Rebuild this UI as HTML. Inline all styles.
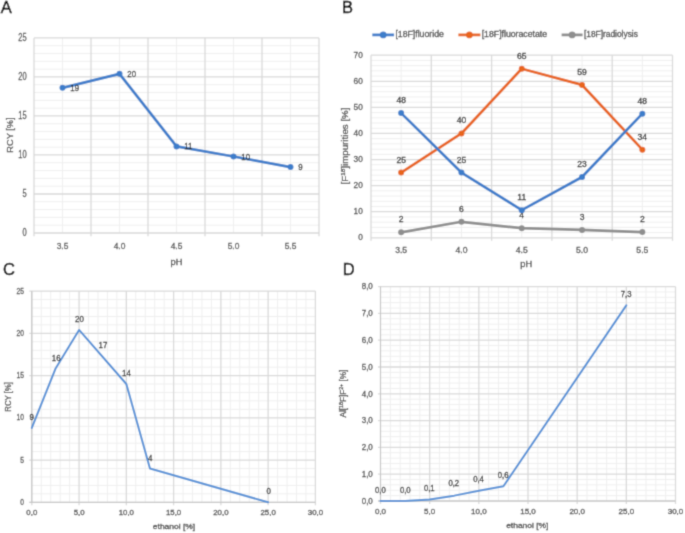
<!DOCTYPE html>
<html><head><meta charset="utf-8"><style>
html,body{margin:0;padding:0;background:#fff;}
body{width:685px;height:533px;overflow:hidden;}
svg{display:block;font-family:"Liberation Sans", sans-serif;}
</style></head><body>
<svg width="685" height="533" viewBox="0 0 685 533">
<defs><filter id="bl" x="0" y="0" width="685" height="533" filterUnits="userSpaceOnUse" primitiveUnits="userSpaceOnUse"><feConvolveMatrix order="3" kernelMatrix="0.0277 0.1110 0.0277 0.1110 0.4452 0.1110 0.0277 0.1110 0.0277" edgeMode="duplicate"/></filter></defs>
<g filter="url(#bl)">
<rect width="685" height="533" fill="#fff"/>
<text transform="translate(6.3,12.74)" font-size="16.5" fill="#000" stroke="#000" stroke-width="0.45" text-anchor="middle">A</text>
<text transform="translate(347.6,12.94)" font-size="16.5" fill="#000" stroke="#000" stroke-width="0.45" text-anchor="middle">B</text>
<text transform="translate(9,274.84)" font-size="16.5" fill="#000" stroke="#000" stroke-width="0.45" text-anchor="middle">C</text>
<text transform="translate(348.6,275.14)" font-size="16.5" fill="#000" stroke="#000" stroke-width="0.45" text-anchor="middle">D</text>
<line x1="34" y1="225.2" x2="319" y2="225.2" stroke="#efefef" stroke-width="1"/>
<line x1="34" y1="217.39" x2="319" y2="217.39" stroke="#efefef" stroke-width="1"/>
<line x1="34" y1="209.59" x2="319" y2="209.59" stroke="#efefef" stroke-width="1"/>
<line x1="34" y1="201.78" x2="319" y2="201.78" stroke="#efefef" stroke-width="1"/>
<line x1="34" y1="186.18" x2="319" y2="186.18" stroke="#efefef" stroke-width="1"/>
<line x1="34" y1="178.37" x2="319" y2="178.37" stroke="#efefef" stroke-width="1"/>
<line x1="34" y1="170.57" x2="319" y2="170.57" stroke="#efefef" stroke-width="1"/>
<line x1="34" y1="162.76" x2="319" y2="162.76" stroke="#efefef" stroke-width="1"/>
<line x1="34" y1="147.16" x2="319" y2="147.16" stroke="#efefef" stroke-width="1"/>
<line x1="34" y1="139.35" x2="319" y2="139.35" stroke="#efefef" stroke-width="1"/>
<line x1="34" y1="131.55" x2="319" y2="131.55" stroke="#efefef" stroke-width="1"/>
<line x1="34" y1="123.74" x2="319" y2="123.74" stroke="#efefef" stroke-width="1"/>
<line x1="34" y1="108.14" x2="319" y2="108.14" stroke="#efefef" stroke-width="1"/>
<line x1="34" y1="100.33" x2="319" y2="100.33" stroke="#efefef" stroke-width="1"/>
<line x1="34" y1="92.53" x2="319" y2="92.53" stroke="#efefef" stroke-width="1"/>
<line x1="34" y1="84.72" x2="319" y2="84.72" stroke="#efefef" stroke-width="1"/>
<line x1="34" y1="69.12" x2="319" y2="69.12" stroke="#efefef" stroke-width="1"/>
<line x1="34" y1="61.31" x2="319" y2="61.31" stroke="#efefef" stroke-width="1"/>
<line x1="34" y1="53.51" x2="319" y2="53.51" stroke="#efefef" stroke-width="1"/>
<line x1="34" y1="45.7" x2="319" y2="45.7" stroke="#efefef" stroke-width="1"/>
<line x1="62.5" y1="37.9" x2="62.5" y2="233" stroke="#efefef" stroke-width="1"/>
<line x1="119.5" y1="37.9" x2="119.5" y2="233" stroke="#efefef" stroke-width="1"/>
<line x1="176.5" y1="37.9" x2="176.5" y2="233" stroke="#efefef" stroke-width="1"/>
<line x1="233.5" y1="37.9" x2="233.5" y2="233" stroke="#efefef" stroke-width="1"/>
<line x1="290.5" y1="37.9" x2="290.5" y2="233" stroke="#efefef" stroke-width="1"/>
<line x1="34" y1="233" x2="319" y2="233" stroke="#d9d9d9" stroke-width="1.3"/>
<line x1="34" y1="193.98" x2="319" y2="193.98" stroke="#d9d9d9" stroke-width="1.3"/>
<line x1="34" y1="154.96" x2="319" y2="154.96" stroke="#d9d9d9" stroke-width="1.3"/>
<line x1="34" y1="115.94" x2="319" y2="115.94" stroke="#d9d9d9" stroke-width="1.3"/>
<line x1="34" y1="76.92" x2="319" y2="76.92" stroke="#d9d9d9" stroke-width="1.3"/>
<line x1="34" y1="37.9" x2="319" y2="37.9" stroke="#d9d9d9" stroke-width="1.3"/>
<line x1="34" y1="37.9" x2="34" y2="236.2" stroke="#d9d9d9" stroke-width="1.3"/>
<line x1="91" y1="37.9" x2="91" y2="236.2" stroke="#d9d9d9" stroke-width="1.3"/>
<line x1="148" y1="37.9" x2="148" y2="236.2" stroke="#d9d9d9" stroke-width="1.3"/>
<line x1="205" y1="37.9" x2="205" y2="236.2" stroke="#d9d9d9" stroke-width="1.3"/>
<line x1="262" y1="37.9" x2="262" y2="236.2" stroke="#d9d9d9" stroke-width="1.3"/>
<line x1="319" y1="37.9" x2="319" y2="236.2" stroke="#d9d9d9" stroke-width="1.3"/>
<text transform="translate(26.6,235.94) scale(0.72,1)" font-size="10.4" fill="#4a4a4a" stroke="#4a4a4a" stroke-width="0.3" text-anchor="end">0</text>
<text transform="translate(26.6,196.92) scale(0.72,1)" font-size="10.4" fill="#4a4a4a" stroke="#4a4a4a" stroke-width="0.3" text-anchor="end">5</text>
<text transform="translate(26.6,157.9) scale(0.72,1)" font-size="10.4" fill="#4a4a4a" stroke="#4a4a4a" stroke-width="0.3" text-anchor="end">10</text>
<text transform="translate(26.6,118.88) scale(0.72,1)" font-size="10.4" fill="#4a4a4a" stroke="#4a4a4a" stroke-width="0.3" text-anchor="end">15</text>
<text transform="translate(26.6,79.86) scale(0.72,1)" font-size="10.4" fill="#4a4a4a" stroke="#4a4a4a" stroke-width="0.3" text-anchor="end">20</text>
<text transform="translate(26.6,40.84) scale(0.72,1)" font-size="10.4" fill="#4a4a4a" stroke="#4a4a4a" stroke-width="0.3" text-anchor="end">25</text>
<text transform="translate(62.5,248.63) scale(0.86,1)" font-size="9.8" fill="#4a4a4a" stroke="#4a4a4a" stroke-width="0.3" text-anchor="middle">3.5</text>
<text transform="translate(119.5,248.63) scale(0.86,1)" font-size="9.8" fill="#4a4a4a" stroke="#4a4a4a" stroke-width="0.3" text-anchor="middle">4.0</text>
<text transform="translate(176.5,248.63) scale(0.86,1)" font-size="9.8" fill="#4a4a4a" stroke="#4a4a4a" stroke-width="0.3" text-anchor="middle">4.5</text>
<text transform="translate(233.5,248.63) scale(0.86,1)" font-size="9.8" fill="#4a4a4a" stroke="#4a4a4a" stroke-width="0.3" text-anchor="middle">5.0</text>
<text transform="translate(290.5,248.63) scale(0.86,1)" font-size="9.8" fill="#4a4a4a" stroke="#4a4a4a" stroke-width="0.3" text-anchor="middle">5.5</text>
<text transform="translate(176.5,265.4) scale(1.08,1)" font-size="8.6" fill="#4a4a4a" stroke="#4a4a4a" stroke-width="0.3" text-anchor="middle">pH</text>
<text transform="translate(9.6,135.1) rotate(-90) translate(0,3.42) scale(0.97,1)" font-size="9.5" fill="#4a4a4a" stroke="#4a4a4a" stroke-width="0.3" text-anchor="middle">RCY [%]</text>
<polyline points="62.5,87.85 119.5,73.8 176.5,146.38 233.5,156.52 290.5,167.06" fill="none" stroke="#3d7dca" stroke-width="2.75" stroke-linejoin="round" stroke-linecap="round"/>
<circle cx="62.5" cy="87.85" r="3.0" fill="#3d7dca"/>
<circle cx="119.5" cy="73.8" r="3.0" fill="#3d7dca"/>
<circle cx="176.5" cy="146.38" r="3.0" fill="#3d7dca"/>
<circle cx="233.5" cy="156.52" r="3.0" fill="#3d7dca"/>
<circle cx="290.5" cy="167.06" r="3.0" fill="#3d7dca"/>
<text transform="translate(70.3,90.87) scale(0.8,1)" font-size="9.8" fill="#2e2e2e" stroke="#2e2e2e" stroke-width="0.3" text-anchor="start">19</text>
<text transform="translate(127.3,76.83) scale(0.8,1)" font-size="9.8" fill="#2e2e2e" stroke="#2e2e2e" stroke-width="0.3" text-anchor="start">20</text>
<text transform="translate(184.3,149.4) scale(0.8,1)" font-size="9.8" fill="#2e2e2e" stroke="#2e2e2e" stroke-width="0.3" text-anchor="start">11</text>
<text transform="translate(241.3,159.55) scale(0.8,1)" font-size="9.8" fill="#2e2e2e" stroke="#2e2e2e" stroke-width="0.3" text-anchor="start">10</text>
<text transform="translate(298.3,170.08) scale(0.8,1)" font-size="9.8" fill="#2e2e2e" stroke="#2e2e2e" stroke-width="0.3" text-anchor="start">9</text>
<line x1="371" y1="232.58" x2="672.5" y2="232.58" stroke="#efefef" stroke-width="1"/>
<line x1="371" y1="227.37" x2="672.5" y2="227.37" stroke="#efefef" stroke-width="1"/>
<line x1="371" y1="222.15" x2="672.5" y2="222.15" stroke="#efefef" stroke-width="1"/>
<line x1="371" y1="216.93" x2="672.5" y2="216.93" stroke="#efefef" stroke-width="1"/>
<line x1="371" y1="206.5" x2="672.5" y2="206.5" stroke="#efefef" stroke-width="1"/>
<line x1="371" y1="201.28" x2="672.5" y2="201.28" stroke="#efefef" stroke-width="1"/>
<line x1="371" y1="196.06" x2="672.5" y2="196.06" stroke="#efefef" stroke-width="1"/>
<line x1="371" y1="190.85" x2="672.5" y2="190.85" stroke="#efefef" stroke-width="1"/>
<line x1="371" y1="180.41" x2="672.5" y2="180.41" stroke="#efefef" stroke-width="1"/>
<line x1="371" y1="175.19" x2="672.5" y2="175.19" stroke="#efefef" stroke-width="1"/>
<line x1="371" y1="169.98" x2="672.5" y2="169.98" stroke="#efefef" stroke-width="1"/>
<line x1="371" y1="164.76" x2="672.5" y2="164.76" stroke="#efefef" stroke-width="1"/>
<line x1="371" y1="154.33" x2="672.5" y2="154.33" stroke="#efefef" stroke-width="1"/>
<line x1="371" y1="149.11" x2="672.5" y2="149.11" stroke="#efefef" stroke-width="1"/>
<line x1="371" y1="143.89" x2="672.5" y2="143.89" stroke="#efefef" stroke-width="1"/>
<line x1="371" y1="138.67" x2="672.5" y2="138.67" stroke="#efefef" stroke-width="1"/>
<line x1="371" y1="128.24" x2="672.5" y2="128.24" stroke="#efefef" stroke-width="1"/>
<line x1="371" y1="123.02" x2="672.5" y2="123.02" stroke="#efefef" stroke-width="1"/>
<line x1="371" y1="117.81" x2="672.5" y2="117.81" stroke="#efefef" stroke-width="1"/>
<line x1="371" y1="112.59" x2="672.5" y2="112.59" stroke="#efefef" stroke-width="1"/>
<line x1="371" y1="102.15" x2="672.5" y2="102.15" stroke="#efefef" stroke-width="1"/>
<line x1="371" y1="96.94" x2="672.5" y2="96.94" stroke="#efefef" stroke-width="1"/>
<line x1="371" y1="91.72" x2="672.5" y2="91.72" stroke="#efefef" stroke-width="1"/>
<line x1="371" y1="86.5" x2="672.5" y2="86.5" stroke="#efefef" stroke-width="1"/>
<line x1="371" y1="76.07" x2="672.5" y2="76.07" stroke="#efefef" stroke-width="1"/>
<line x1="371" y1="70.85" x2="672.5" y2="70.85" stroke="#efefef" stroke-width="1"/>
<line x1="371" y1="65.63" x2="672.5" y2="65.63" stroke="#efefef" stroke-width="1"/>
<line x1="371" y1="60.42" x2="672.5" y2="60.42" stroke="#efefef" stroke-width="1"/>
<line x1="401.15" y1="55.2" x2="401.15" y2="237.8" stroke="#efefef" stroke-width="1"/>
<line x1="461.45" y1="55.2" x2="461.45" y2="237.8" stroke="#efefef" stroke-width="1"/>
<line x1="521.75" y1="55.2" x2="521.75" y2="237.8" stroke="#efefef" stroke-width="1"/>
<line x1="582.05" y1="55.2" x2="582.05" y2="237.8" stroke="#efefef" stroke-width="1"/>
<line x1="642.35" y1="55.2" x2="642.35" y2="237.8" stroke="#efefef" stroke-width="1"/>
<line x1="371" y1="237.8" x2="672.5" y2="237.8" stroke="#d9d9d9" stroke-width="1.3"/>
<line x1="371" y1="211.71" x2="672.5" y2="211.71" stroke="#d9d9d9" stroke-width="1.3"/>
<line x1="371" y1="185.63" x2="672.5" y2="185.63" stroke="#d9d9d9" stroke-width="1.3"/>
<line x1="371" y1="159.54" x2="672.5" y2="159.54" stroke="#d9d9d9" stroke-width="1.3"/>
<line x1="371" y1="133.46" x2="672.5" y2="133.46" stroke="#d9d9d9" stroke-width="1.3"/>
<line x1="371" y1="107.37" x2="672.5" y2="107.37" stroke="#d9d9d9" stroke-width="1.3"/>
<line x1="371" y1="81.29" x2="672.5" y2="81.29" stroke="#d9d9d9" stroke-width="1.3"/>
<line x1="371" y1="55.2" x2="672.5" y2="55.2" stroke="#d9d9d9" stroke-width="1.3"/>
<line x1="371" y1="55.2" x2="371" y2="240.8" stroke="#d9d9d9" stroke-width="1.3"/>
<line x1="431.3" y1="55.2" x2="431.3" y2="240.8" stroke="#d9d9d9" stroke-width="1.3"/>
<line x1="491.6" y1="55.2" x2="491.6" y2="240.8" stroke="#d9d9d9" stroke-width="1.3"/>
<line x1="551.9" y1="55.2" x2="551.9" y2="240.8" stroke="#d9d9d9" stroke-width="1.3"/>
<line x1="612.2" y1="55.2" x2="612.2" y2="240.8" stroke="#d9d9d9" stroke-width="1.3"/>
<line x1="672.5" y1="55.2" x2="672.5" y2="240.8" stroke="#d9d9d9" stroke-width="1.3"/>
<text transform="translate(362.8,240.36) scale(0.86,1)" font-size="9.6" fill="#4a4a4a" stroke="#4a4a4a" stroke-width="0.3" text-anchor="end">0</text>
<text transform="translate(362.8,214.27) scale(0.86,1)" font-size="9.6" fill="#4a4a4a" stroke="#4a4a4a" stroke-width="0.3" text-anchor="end">10</text>
<text transform="translate(362.8,188.18) scale(0.86,1)" font-size="9.6" fill="#4a4a4a" stroke="#4a4a4a" stroke-width="0.3" text-anchor="end">20</text>
<text transform="translate(362.8,162.1) scale(0.86,1)" font-size="9.6" fill="#4a4a4a" stroke="#4a4a4a" stroke-width="0.3" text-anchor="end">30</text>
<text transform="translate(362.8,136.01) scale(0.86,1)" font-size="9.6" fill="#4a4a4a" stroke="#4a4a4a" stroke-width="0.3" text-anchor="end">40</text>
<text transform="translate(362.8,109.93) scale(0.86,1)" font-size="9.6" fill="#4a4a4a" stroke="#4a4a4a" stroke-width="0.3" text-anchor="end">50</text>
<text transform="translate(362.8,83.84) scale(0.86,1)" font-size="9.6" fill="#4a4a4a" stroke="#4a4a4a" stroke-width="0.3" text-anchor="end">60</text>
<text transform="translate(362.8,57.76) scale(0.86,1)" font-size="9.6" fill="#4a4a4a" stroke="#4a4a4a" stroke-width="0.3" text-anchor="end">70</text>
<text transform="translate(401.15,253.06) scale(0.9,1)" font-size="9.6" fill="#4a4a4a" stroke="#4a4a4a" stroke-width="0.3" text-anchor="middle">3.5</text>
<text transform="translate(461.45,253.06) scale(0.9,1)" font-size="9.6" fill="#4a4a4a" stroke="#4a4a4a" stroke-width="0.3" text-anchor="middle">4.0</text>
<text transform="translate(521.75,253.06) scale(0.9,1)" font-size="9.6" fill="#4a4a4a" stroke="#4a4a4a" stroke-width="0.3" text-anchor="middle">4.5</text>
<text transform="translate(582.05,253.06) scale(0.9,1)" font-size="9.6" fill="#4a4a4a" stroke="#4a4a4a" stroke-width="0.3" text-anchor="middle">5.0</text>
<text transform="translate(642.35,253.06) scale(0.9,1)" font-size="9.6" fill="#4a4a4a" stroke="#4a4a4a" stroke-width="0.3" text-anchor="middle">5.5</text>
<text transform="translate(526.3,266.9) scale(1.08,1)" font-size="8.6" fill="#4a4a4a" stroke="#4a4a4a" stroke-width="0.3" text-anchor="middle">pH</text>
<text transform="translate(344.6,146) rotate(-90) translate(0,3.31) scale(1.06,1)" font-size="9.2" fill="#4a4a4a" stroke="#4a4a4a" stroke-width="0.3" text-anchor="middle">[F<tspan font-size="6" dy="-3">18</tspan><tspan dy="3">]impurities [%]</tspan></text>
<polyline points="401.15,232.32 461.45,221.76 521.75,228.15 582.05,229.97 642.35,232.06" fill="none" stroke="#8e8e8e" stroke-width="2.75" stroke-linejoin="round" stroke-linecap="round"/>
<circle cx="401.15" cy="232.32" r="3.0" fill="#8e8e8e"/>
<circle cx="461.45" cy="221.76" r="3.0" fill="#8e8e8e"/>
<circle cx="521.75" cy="228.15" r="3.0" fill="#8e8e8e"/>
<circle cx="582.05" cy="229.97" r="3.0" fill="#8e8e8e"/>
<circle cx="642.35" cy="232.06" r="3.0" fill="#8e8e8e"/>
<text transform="translate(401.15,222.23) scale(0.93,1)" font-size="9.2" fill="#2e2e2e" stroke="#2e2e2e" stroke-width="0.3" text-anchor="middle">2</text>
<text transform="translate(461.45,211.67) scale(0.93,1)" font-size="9.2" fill="#2e2e2e" stroke="#2e2e2e" stroke-width="0.3" text-anchor="middle">6</text>
<text transform="translate(521.75,218.06) scale(0.93,1)" font-size="9.2" fill="#2e2e2e" stroke="#2e2e2e" stroke-width="0.3" text-anchor="middle">4</text>
<text transform="translate(582.05,219.89) scale(0.93,1)" font-size="9.2" fill="#2e2e2e" stroke="#2e2e2e" stroke-width="0.3" text-anchor="middle">3</text>
<text transform="translate(642.35,221.97) scale(0.93,1)" font-size="9.2" fill="#2e2e2e" stroke="#2e2e2e" stroke-width="0.3" text-anchor="middle">2</text>
<polyline points="401.15,172.59 461.45,133.46 521.75,68.76 582.05,84.94 642.35,149.63" fill="none" stroke="#e8651f" stroke-width="2.75" stroke-linejoin="round" stroke-linecap="round"/>
<circle cx="401.15" cy="172.59" r="3.0" fill="#e8651f"/>
<circle cx="461.45" cy="133.46" r="3.0" fill="#e8651f"/>
<circle cx="521.75" cy="68.76" r="3.0" fill="#e8651f"/>
<circle cx="582.05" cy="84.94" r="3.0" fill="#e8651f"/>
<circle cx="642.35" cy="149.63" r="3.0" fill="#e8651f"/>
<text transform="translate(401.15,162.5) scale(0.93,1)" font-size="9.2" fill="#2e2e2e" stroke="#2e2e2e" stroke-width="0.3" text-anchor="middle">25</text>
<text transform="translate(461.45,123.37) scale(0.93,1)" font-size="9.2" fill="#2e2e2e" stroke="#2e2e2e" stroke-width="0.3" text-anchor="middle">40</text>
<text transform="translate(521.75,58.68) scale(0.93,1)" font-size="9.2" fill="#2e2e2e" stroke="#2e2e2e" stroke-width="0.3" text-anchor="middle">65</text>
<text transform="translate(582.05,74.85) scale(0.93,1)" font-size="9.2" fill="#2e2e2e" stroke="#2e2e2e" stroke-width="0.3" text-anchor="middle">59</text>
<text transform="translate(642.35,139.54) scale(0.93,1)" font-size="9.2" fill="#2e2e2e" stroke="#2e2e2e" stroke-width="0.3" text-anchor="middle">34</text>
<polyline points="401.15,113.11 461.45,172.59 521.75,210.15 582.05,177.02 642.35,113.63" fill="none" stroke="#3d7dca" stroke-width="2.75" stroke-linejoin="round" stroke-linecap="round"/>
<circle cx="401.15" cy="113.11" r="3.0" fill="#3d7dca"/>
<circle cx="461.45" cy="172.59" r="3.0" fill="#3d7dca"/>
<circle cx="521.75" cy="210.15" r="3.0" fill="#3d7dca"/>
<circle cx="582.05" cy="177.02" r="3.0" fill="#3d7dca"/>
<circle cx="642.35" cy="113.63" r="3.0" fill="#3d7dca"/>
<text transform="translate(401.15,103.02) scale(0.93,1)" font-size="9.2" fill="#2e2e2e" stroke="#2e2e2e" stroke-width="0.3" text-anchor="middle">48</text>
<text transform="translate(461.45,162.5) scale(0.93,1)" font-size="9.2" fill="#2e2e2e" stroke="#2e2e2e" stroke-width="0.3" text-anchor="middle">25</text>
<text transform="translate(521.75,200.06) scale(0.93,1)" font-size="9.2" fill="#2e2e2e" stroke="#2e2e2e" stroke-width="0.3" text-anchor="middle">11</text>
<text transform="translate(582.05,166.93) scale(0.93,1)" font-size="9.2" fill="#2e2e2e" stroke="#2e2e2e" stroke-width="0.3" text-anchor="middle">23</text>
<text transform="translate(642.35,103.54) scale(0.93,1)" font-size="9.2" fill="#2e2e2e" stroke="#2e2e2e" stroke-width="0.3" text-anchor="middle">48</text>
<line x1="372.3" y1="34.9" x2="394.1" y2="34.9" stroke="#3d7dca" stroke-width="2.75"/>
<circle cx="383.2" cy="34.9" r="3.4" fill="#3d7dca"/>
<text transform="translate(395.4,37.42) scale(1.04,1)" font-size="8.4" fill="#4a4a4a" stroke="#4a4a4a" stroke-width="0.3" text-anchor="start">[18F]fluoride</text>
<line x1="458.4" y1="34.9" x2="480.4" y2="34.9" stroke="#e8651f" stroke-width="2.75"/>
<circle cx="469.4" cy="34.9" r="3.4" fill="#e8651f"/>
<text transform="translate(481.7,37.42) scale(1.04,1)" font-size="8.4" fill="#4a4a4a" stroke="#4a4a4a" stroke-width="0.3" text-anchor="start">[18F]fluoracetate</text>
<line x1="561.6" y1="34.9" x2="582.6" y2="34.9" stroke="#8e8e8e" stroke-width="2.75"/>
<circle cx="572.1" cy="34.9" r="3.4" fill="#8e8e8e"/>
<text transform="translate(583.9,37.42)" font-size="8.4" fill="#4a4a4a" stroke="#4a4a4a" stroke-width="0.3" text-anchor="start">[18F]radiolysis</text>
<line x1="41.25" y1="291.1" x2="41.25" y2="502.3" stroke="#efefef" stroke-width="1"/>
<line x1="50.71" y1="291.1" x2="50.71" y2="502.3" stroke="#efefef" stroke-width="1"/>
<line x1="60.16" y1="291.1" x2="60.16" y2="502.3" stroke="#efefef" stroke-width="1"/>
<line x1="69.61" y1="291.1" x2="69.61" y2="502.3" stroke="#efefef" stroke-width="1"/>
<line x1="88.52" y1="291.1" x2="88.52" y2="502.3" stroke="#efefef" stroke-width="1"/>
<line x1="97.97" y1="291.1" x2="97.97" y2="502.3" stroke="#efefef" stroke-width="1"/>
<line x1="107.43" y1="291.1" x2="107.43" y2="502.3" stroke="#efefef" stroke-width="1"/>
<line x1="116.88" y1="291.1" x2="116.88" y2="502.3" stroke="#efefef" stroke-width="1"/>
<line x1="135.79" y1="291.1" x2="135.79" y2="502.3" stroke="#efefef" stroke-width="1"/>
<line x1="145.24" y1="291.1" x2="145.24" y2="502.3" stroke="#efefef" stroke-width="1"/>
<line x1="154.69" y1="291.1" x2="154.69" y2="502.3" stroke="#efefef" stroke-width="1"/>
<line x1="164.15" y1="291.1" x2="164.15" y2="502.3" stroke="#efefef" stroke-width="1"/>
<line x1="183.05" y1="291.1" x2="183.05" y2="502.3" stroke="#efefef" stroke-width="1"/>
<line x1="192.51" y1="291.1" x2="192.51" y2="502.3" stroke="#efefef" stroke-width="1"/>
<line x1="201.96" y1="291.1" x2="201.96" y2="502.3" stroke="#efefef" stroke-width="1"/>
<line x1="211.41" y1="291.1" x2="211.41" y2="502.3" stroke="#efefef" stroke-width="1"/>
<line x1="230.32" y1="291.1" x2="230.32" y2="502.3" stroke="#efefef" stroke-width="1"/>
<line x1="239.77" y1="291.1" x2="239.77" y2="502.3" stroke="#efefef" stroke-width="1"/>
<line x1="249.23" y1="291.1" x2="249.23" y2="502.3" stroke="#efefef" stroke-width="1"/>
<line x1="258.68" y1="291.1" x2="258.68" y2="502.3" stroke="#efefef" stroke-width="1"/>
<line x1="277.59" y1="291.1" x2="277.59" y2="502.3" stroke="#efefef" stroke-width="1"/>
<line x1="287.04" y1="291.1" x2="287.04" y2="502.3" stroke="#efefef" stroke-width="1"/>
<line x1="296.49" y1="291.1" x2="296.49" y2="502.3" stroke="#efefef" stroke-width="1"/>
<line x1="305.95" y1="291.1" x2="305.95" y2="502.3" stroke="#efefef" stroke-width="1"/>
<line x1="31.8" y1="493.85" x2="315.4" y2="493.85" stroke="#efefef" stroke-width="1"/>
<line x1="31.8" y1="485.4" x2="315.4" y2="485.4" stroke="#efefef" stroke-width="1"/>
<line x1="31.8" y1="476.96" x2="315.4" y2="476.96" stroke="#efefef" stroke-width="1"/>
<line x1="31.8" y1="468.51" x2="315.4" y2="468.51" stroke="#efefef" stroke-width="1"/>
<line x1="31.8" y1="451.61" x2="315.4" y2="451.61" stroke="#efefef" stroke-width="1"/>
<line x1="31.8" y1="443.16" x2="315.4" y2="443.16" stroke="#efefef" stroke-width="1"/>
<line x1="31.8" y1="434.72" x2="315.4" y2="434.72" stroke="#efefef" stroke-width="1"/>
<line x1="31.8" y1="426.27" x2="315.4" y2="426.27" stroke="#efefef" stroke-width="1"/>
<line x1="31.8" y1="409.37" x2="315.4" y2="409.37" stroke="#efefef" stroke-width="1"/>
<line x1="31.8" y1="400.92" x2="315.4" y2="400.92" stroke="#efefef" stroke-width="1"/>
<line x1="31.8" y1="392.48" x2="315.4" y2="392.48" stroke="#efefef" stroke-width="1"/>
<line x1="31.8" y1="384.03" x2="315.4" y2="384.03" stroke="#efefef" stroke-width="1"/>
<line x1="31.8" y1="367.13" x2="315.4" y2="367.13" stroke="#efefef" stroke-width="1"/>
<line x1="31.8" y1="358.68" x2="315.4" y2="358.68" stroke="#efefef" stroke-width="1"/>
<line x1="31.8" y1="350.24" x2="315.4" y2="350.24" stroke="#efefef" stroke-width="1"/>
<line x1="31.8" y1="341.79" x2="315.4" y2="341.79" stroke="#efefef" stroke-width="1"/>
<line x1="31.8" y1="324.89" x2="315.4" y2="324.89" stroke="#efefef" stroke-width="1"/>
<line x1="31.8" y1="316.44" x2="315.4" y2="316.44" stroke="#efefef" stroke-width="1"/>
<line x1="31.8" y1="308" x2="315.4" y2="308" stroke="#efefef" stroke-width="1"/>
<line x1="31.8" y1="299.55" x2="315.4" y2="299.55" stroke="#efefef" stroke-width="1"/>
<line x1="31.8" y1="291.1" x2="31.8" y2="505.3" stroke="#d9d9d9" stroke-width="1.3"/>
<line x1="79.07" y1="291.1" x2="79.07" y2="505.3" stroke="#d9d9d9" stroke-width="1.3"/>
<line x1="126.33" y1="291.1" x2="126.33" y2="505.3" stroke="#d9d9d9" stroke-width="1.3"/>
<line x1="173.6" y1="291.1" x2="173.6" y2="505.3" stroke="#d9d9d9" stroke-width="1.3"/>
<line x1="220.87" y1="291.1" x2="220.87" y2="505.3" stroke="#d9d9d9" stroke-width="1.3"/>
<line x1="268.13" y1="291.1" x2="268.13" y2="505.3" stroke="#d9d9d9" stroke-width="1.3"/>
<line x1="315.4" y1="291.1" x2="315.4" y2="505.3" stroke="#d9d9d9" stroke-width="1.3"/>
<line x1="29.3" y1="502.3" x2="315.4" y2="502.3" stroke="#d9d9d9" stroke-width="1.3"/>
<line x1="29.3" y1="460.06" x2="315.4" y2="460.06" stroke="#d9d9d9" stroke-width="1.3"/>
<line x1="29.3" y1="417.82" x2="315.4" y2="417.82" stroke="#d9d9d9" stroke-width="1.3"/>
<line x1="29.3" y1="375.58" x2="315.4" y2="375.58" stroke="#d9d9d9" stroke-width="1.3"/>
<line x1="29.3" y1="333.34" x2="315.4" y2="333.34" stroke="#d9d9d9" stroke-width="1.3"/>
<line x1="29.3" y1="291.1" x2="315.4" y2="291.1" stroke="#d9d9d9" stroke-width="1.3"/>
<line x1="31.8" y1="291.1" x2="31.8" y2="502.3" stroke="#c4c4c4" stroke-width="1"/>
<line x1="29.3" y1="502.3" x2="315.4" y2="502.3" stroke="#c4c4c4" stroke-width="1"/>
<text transform="translate(24,504.94) scale(0.74,1)" font-size="9.0" fill="#4a4a4a" stroke="#4a4a4a" stroke-width="0.3" text-anchor="end">0</text>
<text transform="translate(24,462.7) scale(0.74,1)" font-size="9.0" fill="#4a4a4a" stroke="#4a4a4a" stroke-width="0.3" text-anchor="end">5</text>
<text transform="translate(24,420.46) scale(0.74,1)" font-size="9.0" fill="#4a4a4a" stroke="#4a4a4a" stroke-width="0.3" text-anchor="end">10</text>
<text transform="translate(24,378.22) scale(0.74,1)" font-size="9.0" fill="#4a4a4a" stroke="#4a4a4a" stroke-width="0.3" text-anchor="end">15</text>
<text transform="translate(24,335.98) scale(0.74,1)" font-size="9.0" fill="#4a4a4a" stroke="#4a4a4a" stroke-width="0.3" text-anchor="end">20</text>
<text transform="translate(24,293.74) scale(0.74,1)" font-size="9.0" fill="#4a4a4a" stroke="#4a4a4a" stroke-width="0.3" text-anchor="end">25</text>
<text transform="translate(31.8,514.88) scale(0.98,1)" font-size="8.0" fill="#4a4a4a" stroke="#4a4a4a" stroke-width="0.3" text-anchor="middle">0,0</text>
<text transform="translate(79.07,514.88) scale(0.98,1)" font-size="8.0" fill="#4a4a4a" stroke="#4a4a4a" stroke-width="0.3" text-anchor="middle">5,0</text>
<text transform="translate(126.33,514.88) scale(0.98,1)" font-size="8.0" fill="#4a4a4a" stroke="#4a4a4a" stroke-width="0.3" text-anchor="middle">10,0</text>
<text transform="translate(173.6,514.88) scale(0.98,1)" font-size="8.0" fill="#4a4a4a" stroke="#4a4a4a" stroke-width="0.3" text-anchor="middle">15,0</text>
<text transform="translate(220.87,514.88) scale(0.98,1)" font-size="8.0" fill="#4a4a4a" stroke="#4a4a4a" stroke-width="0.3" text-anchor="middle">20,0</text>
<text transform="translate(268.13,514.88) scale(0.98,1)" font-size="8.0" fill="#4a4a4a" stroke="#4a4a4a" stroke-width="0.3" text-anchor="middle">25,0</text>
<text transform="translate(315.4,514.88) scale(0.98,1)" font-size="8.0" fill="#4a4a4a" stroke="#4a4a4a" stroke-width="0.3" text-anchor="middle">30,0</text>
<text transform="translate(174,528.57) scale(1.1,1)" font-size="7.7" fill="#4a4a4a" stroke="#4a4a4a" stroke-width="0.3" text-anchor="middle">ethanol [%]</text>
<text transform="translate(7.9,396.9) rotate(-90) translate(0,2.95) scale(0.95,1)" font-size="8.2" fill="#4a4a4a" stroke="#4a4a4a" stroke-width="0.3" text-anchor="middle">RCY [%]</text>
<polyline points="31.8,427.96 55.43,368.82 79.07,329.96 126.33,384.03 149.97,468.51 268.13,502.3" fill="none" stroke="#5290d6" stroke-width="2.0" stroke-linejoin="round" stroke-linecap="round"/>
<text transform="translate(31.8,419.96) scale(0.8,1)" font-size="9.9" fill="#2e2e2e" stroke="#2e2e2e" stroke-width="0.3" text-anchor="middle">9</text>
<text transform="translate(56.2,361.16) scale(0.8,1)" font-size="9.9" fill="#2e2e2e" stroke="#2e2e2e" stroke-width="0.3" text-anchor="middle">16</text>
<text transform="translate(79.4,322.16) scale(0.8,1)" font-size="9.9" fill="#2e2e2e" stroke="#2e2e2e" stroke-width="0.3" text-anchor="middle">20</text>
<text transform="translate(103,348.26) scale(0.8,1)" font-size="9.9" fill="#2e2e2e" stroke="#2e2e2e" stroke-width="0.3" text-anchor="middle">17</text>
<text transform="translate(126.5,376.06) scale(0.8,1)" font-size="9.9" fill="#2e2e2e" stroke="#2e2e2e" stroke-width="0.3" text-anchor="middle">14</text>
<text transform="translate(150.3,460.56) scale(0.8,1)" font-size="9.9" fill="#2e2e2e" stroke="#2e2e2e" stroke-width="0.3" text-anchor="middle">4</text>
<text transform="translate(268.6,494.36) scale(0.8,1)" font-size="9.9" fill="#2e2e2e" stroke="#2e2e2e" stroke-width="0.3" text-anchor="middle">0</text>
<line x1="390.33" y1="286.6" x2="390.33" y2="501" stroke="#efefef" stroke-width="1"/>
<line x1="400.17" y1="286.6" x2="400.17" y2="501" stroke="#efefef" stroke-width="1"/>
<line x1="410" y1="286.6" x2="410" y2="501" stroke="#efefef" stroke-width="1"/>
<line x1="419.83" y1="286.6" x2="419.83" y2="501" stroke="#efefef" stroke-width="1"/>
<line x1="439.5" y1="286.6" x2="439.5" y2="501" stroke="#efefef" stroke-width="1"/>
<line x1="449.33" y1="286.6" x2="449.33" y2="501" stroke="#efefef" stroke-width="1"/>
<line x1="459.17" y1="286.6" x2="459.17" y2="501" stroke="#efefef" stroke-width="1"/>
<line x1="469" y1="286.6" x2="469" y2="501" stroke="#efefef" stroke-width="1"/>
<line x1="488.67" y1="286.6" x2="488.67" y2="501" stroke="#efefef" stroke-width="1"/>
<line x1="498.5" y1="286.6" x2="498.5" y2="501" stroke="#efefef" stroke-width="1"/>
<line x1="508.33" y1="286.6" x2="508.33" y2="501" stroke="#efefef" stroke-width="1"/>
<line x1="518.17" y1="286.6" x2="518.17" y2="501" stroke="#efefef" stroke-width="1"/>
<line x1="537.83" y1="286.6" x2="537.83" y2="501" stroke="#efefef" stroke-width="1"/>
<line x1="547.67" y1="286.6" x2="547.67" y2="501" stroke="#efefef" stroke-width="1"/>
<line x1="557.5" y1="286.6" x2="557.5" y2="501" stroke="#efefef" stroke-width="1"/>
<line x1="567.33" y1="286.6" x2="567.33" y2="501" stroke="#efefef" stroke-width="1"/>
<line x1="587" y1="286.6" x2="587" y2="501" stroke="#efefef" stroke-width="1"/>
<line x1="596.83" y1="286.6" x2="596.83" y2="501" stroke="#efefef" stroke-width="1"/>
<line x1="606.67" y1="286.6" x2="606.67" y2="501" stroke="#efefef" stroke-width="1"/>
<line x1="616.5" y1="286.6" x2="616.5" y2="501" stroke="#efefef" stroke-width="1"/>
<line x1="636.17" y1="286.6" x2="636.17" y2="501" stroke="#efefef" stroke-width="1"/>
<line x1="646" y1="286.6" x2="646" y2="501" stroke="#efefef" stroke-width="1"/>
<line x1="655.83" y1="286.6" x2="655.83" y2="501" stroke="#efefef" stroke-width="1"/>
<line x1="665.67" y1="286.6" x2="665.67" y2="501" stroke="#efefef" stroke-width="1"/>
<line x1="380.5" y1="495.64" x2="675.5" y2="495.64" stroke="#efefef" stroke-width="1"/>
<line x1="380.5" y1="490.28" x2="675.5" y2="490.28" stroke="#efefef" stroke-width="1"/>
<line x1="380.5" y1="484.92" x2="675.5" y2="484.92" stroke="#efefef" stroke-width="1"/>
<line x1="380.5" y1="479.56" x2="675.5" y2="479.56" stroke="#efefef" stroke-width="1"/>
<line x1="380.5" y1="468.84" x2="675.5" y2="468.84" stroke="#efefef" stroke-width="1"/>
<line x1="380.5" y1="463.48" x2="675.5" y2="463.48" stroke="#efefef" stroke-width="1"/>
<line x1="380.5" y1="458.12" x2="675.5" y2="458.12" stroke="#efefef" stroke-width="1"/>
<line x1="380.5" y1="452.76" x2="675.5" y2="452.76" stroke="#efefef" stroke-width="1"/>
<line x1="380.5" y1="442.04" x2="675.5" y2="442.04" stroke="#efefef" stroke-width="1"/>
<line x1="380.5" y1="436.68" x2="675.5" y2="436.68" stroke="#efefef" stroke-width="1"/>
<line x1="380.5" y1="431.32" x2="675.5" y2="431.32" stroke="#efefef" stroke-width="1"/>
<line x1="380.5" y1="425.96" x2="675.5" y2="425.96" stroke="#efefef" stroke-width="1"/>
<line x1="380.5" y1="415.24" x2="675.5" y2="415.24" stroke="#efefef" stroke-width="1"/>
<line x1="380.5" y1="409.88" x2="675.5" y2="409.88" stroke="#efefef" stroke-width="1"/>
<line x1="380.5" y1="404.52" x2="675.5" y2="404.52" stroke="#efefef" stroke-width="1"/>
<line x1="380.5" y1="399.16" x2="675.5" y2="399.16" stroke="#efefef" stroke-width="1"/>
<line x1="380.5" y1="388.44" x2="675.5" y2="388.44" stroke="#efefef" stroke-width="1"/>
<line x1="380.5" y1="383.08" x2="675.5" y2="383.08" stroke="#efefef" stroke-width="1"/>
<line x1="380.5" y1="377.72" x2="675.5" y2="377.72" stroke="#efefef" stroke-width="1"/>
<line x1="380.5" y1="372.36" x2="675.5" y2="372.36" stroke="#efefef" stroke-width="1"/>
<line x1="380.5" y1="361.64" x2="675.5" y2="361.64" stroke="#efefef" stroke-width="1"/>
<line x1="380.5" y1="356.28" x2="675.5" y2="356.28" stroke="#efefef" stroke-width="1"/>
<line x1="380.5" y1="350.92" x2="675.5" y2="350.92" stroke="#efefef" stroke-width="1"/>
<line x1="380.5" y1="345.56" x2="675.5" y2="345.56" stroke="#efefef" stroke-width="1"/>
<line x1="380.5" y1="334.84" x2="675.5" y2="334.84" stroke="#efefef" stroke-width="1"/>
<line x1="380.5" y1="329.48" x2="675.5" y2="329.48" stroke="#efefef" stroke-width="1"/>
<line x1="380.5" y1="324.12" x2="675.5" y2="324.12" stroke="#efefef" stroke-width="1"/>
<line x1="380.5" y1="318.76" x2="675.5" y2="318.76" stroke="#efefef" stroke-width="1"/>
<line x1="380.5" y1="308.04" x2="675.5" y2="308.04" stroke="#efefef" stroke-width="1"/>
<line x1="380.5" y1="302.68" x2="675.5" y2="302.68" stroke="#efefef" stroke-width="1"/>
<line x1="380.5" y1="297.32" x2="675.5" y2="297.32" stroke="#efefef" stroke-width="1"/>
<line x1="380.5" y1="291.96" x2="675.5" y2="291.96" stroke="#efefef" stroke-width="1"/>
<line x1="380.5" y1="286.6" x2="380.5" y2="504" stroke="#d9d9d9" stroke-width="1.3"/>
<line x1="429.67" y1="286.6" x2="429.67" y2="504" stroke="#d9d9d9" stroke-width="1.3"/>
<line x1="478.83" y1="286.6" x2="478.83" y2="504" stroke="#d9d9d9" stroke-width="1.3"/>
<line x1="528" y1="286.6" x2="528" y2="504" stroke="#d9d9d9" stroke-width="1.3"/>
<line x1="577.17" y1="286.6" x2="577.17" y2="504" stroke="#d9d9d9" stroke-width="1.3"/>
<line x1="626.33" y1="286.6" x2="626.33" y2="504" stroke="#d9d9d9" stroke-width="1.3"/>
<line x1="675.5" y1="286.6" x2="675.5" y2="504" stroke="#d9d9d9" stroke-width="1.3"/>
<line x1="378" y1="501" x2="675.5" y2="501" stroke="#d9d9d9" stroke-width="1.3"/>
<line x1="378" y1="474.2" x2="675.5" y2="474.2" stroke="#d9d9d9" stroke-width="1.3"/>
<line x1="378" y1="447.4" x2="675.5" y2="447.4" stroke="#d9d9d9" stroke-width="1.3"/>
<line x1="378" y1="420.6" x2="675.5" y2="420.6" stroke="#d9d9d9" stroke-width="1.3"/>
<line x1="378" y1="393.8" x2="675.5" y2="393.8" stroke="#d9d9d9" stroke-width="1.3"/>
<line x1="378" y1="367" x2="675.5" y2="367" stroke="#d9d9d9" stroke-width="1.3"/>
<line x1="378" y1="340.2" x2="675.5" y2="340.2" stroke="#d9d9d9" stroke-width="1.3"/>
<line x1="378" y1="313.4" x2="675.5" y2="313.4" stroke="#d9d9d9" stroke-width="1.3"/>
<line x1="378" y1="286.6" x2="675.5" y2="286.6" stroke="#d9d9d9" stroke-width="1.3"/>
<line x1="380.5" y1="286.6" x2="380.5" y2="501" stroke="#c4c4c4" stroke-width="1"/>
<line x1="378" y1="501" x2="675.5" y2="501" stroke="#c4c4c4" stroke-width="1"/>
<text transform="translate(372.8,503.72) scale(0.95,1)" font-size="8.4" fill="#4a4a4a" stroke="#4a4a4a" stroke-width="0.3" text-anchor="end">0,0</text>
<text transform="translate(372.8,476.92) scale(0.95,1)" font-size="8.4" fill="#4a4a4a" stroke="#4a4a4a" stroke-width="0.3" text-anchor="end">1,0</text>
<text transform="translate(372.8,450.12) scale(0.95,1)" font-size="8.4" fill="#4a4a4a" stroke="#4a4a4a" stroke-width="0.3" text-anchor="end">2,0</text>
<text transform="translate(372.8,423.32) scale(0.95,1)" font-size="8.4" fill="#4a4a4a" stroke="#4a4a4a" stroke-width="0.3" text-anchor="end">3,0</text>
<text transform="translate(372.8,396.52) scale(0.95,1)" font-size="8.4" fill="#4a4a4a" stroke="#4a4a4a" stroke-width="0.3" text-anchor="end">4,0</text>
<text transform="translate(372.8,369.72) scale(0.95,1)" font-size="8.4" fill="#4a4a4a" stroke="#4a4a4a" stroke-width="0.3" text-anchor="end">5,0</text>
<text transform="translate(372.8,342.92) scale(0.95,1)" font-size="8.4" fill="#4a4a4a" stroke="#4a4a4a" stroke-width="0.3" text-anchor="end">6,0</text>
<text transform="translate(372.8,316.12) scale(0.95,1)" font-size="8.4" fill="#4a4a4a" stroke="#4a4a4a" stroke-width="0.3" text-anchor="end">7,0</text>
<text transform="translate(372.8,289.32) scale(0.95,1)" font-size="8.4" fill="#4a4a4a" stroke="#4a4a4a" stroke-width="0.3" text-anchor="end">8,0</text>
<text transform="translate(380.5,513.88)" font-size="8.0" fill="#4a4a4a" stroke="#4a4a4a" stroke-width="0.3" text-anchor="middle">0,0</text>
<text transform="translate(429.67,513.88)" font-size="8.0" fill="#4a4a4a" stroke="#4a4a4a" stroke-width="0.3" text-anchor="middle">5,0</text>
<text transform="translate(478.83,513.88)" font-size="8.0" fill="#4a4a4a" stroke="#4a4a4a" stroke-width="0.3" text-anchor="middle">10,0</text>
<text transform="translate(528,513.88)" font-size="8.0" fill="#4a4a4a" stroke="#4a4a4a" stroke-width="0.3" text-anchor="middle">15,0</text>
<text transform="translate(577.17,513.88)" font-size="8.0" fill="#4a4a4a" stroke="#4a4a4a" stroke-width="0.3" text-anchor="middle">20,0</text>
<text transform="translate(626.33,513.88)" font-size="8.0" fill="#4a4a4a" stroke="#4a4a4a" stroke-width="0.3" text-anchor="middle">25,0</text>
<text transform="translate(675.5,513.88)" font-size="8.0" fill="#4a4a4a" stroke="#4a4a4a" stroke-width="0.3" text-anchor="middle">30,0</text>
<text transform="translate(527.3,527.67) scale(1.1,1)" font-size="7.7" fill="#4a4a4a" stroke="#4a4a4a" stroke-width="0.3" text-anchor="middle">ethanol [%]</text>
<text transform="translate(342.8,393.6) rotate(-90) translate(0,3.06) scale(0.96,1)" font-size="8.5" fill="#4a4a4a" stroke="#4a4a4a" stroke-width="0.3" text-anchor="middle">Al[<tspan font-size="5.5" dy="-2.5">18</tspan><tspan dy="2.5">F]F</tspan><tspan font-size="5.5" dy="-2.5">2+</tspan><tspan dy="2.5"> [%]</tspan></text>
<polyline points="380.5,501 405.08,501 429.67,499.39 454.25,495.64 478.83,490.82 503.42,486.26 626.33,305.36" fill="none" stroke="#5290d6" stroke-width="2.0" stroke-linejoin="round" stroke-linecap="round"/>
<text transform="translate(380.4,492.64) scale(0.86,1)" font-size="9.0" fill="#2e2e2e" stroke="#2e2e2e" stroke-width="0.3" text-anchor="middle">0,0</text>
<text transform="translate(405.3,492.64) scale(0.86,1)" font-size="9.0" fill="#2e2e2e" stroke="#2e2e2e" stroke-width="0.3" text-anchor="middle">0,0</text>
<text transform="translate(429.3,490.74) scale(0.86,1)" font-size="9.0" fill="#2e2e2e" stroke="#2e2e2e" stroke-width="0.3" text-anchor="middle">0,1</text>
<text transform="translate(453.8,486.44) scale(0.86,1)" font-size="9.0" fill="#2e2e2e" stroke="#2e2e2e" stroke-width="0.3" text-anchor="middle">0,2</text>
<text transform="translate(478.5,482.24) scale(0.86,1)" font-size="9.0" fill="#2e2e2e" stroke="#2e2e2e" stroke-width="0.3" text-anchor="middle">0,4</text>
<text transform="translate(503.2,478.04) scale(0.86,1)" font-size="9.0" fill="#2e2e2e" stroke="#2e2e2e" stroke-width="0.3" text-anchor="middle">0,6</text>
<text transform="translate(626.1,297.14) scale(0.86,1)" font-size="9.0" fill="#2e2e2e" stroke="#2e2e2e" stroke-width="0.3" text-anchor="middle">7,3</text>
</g>
</svg>
</body></html>
